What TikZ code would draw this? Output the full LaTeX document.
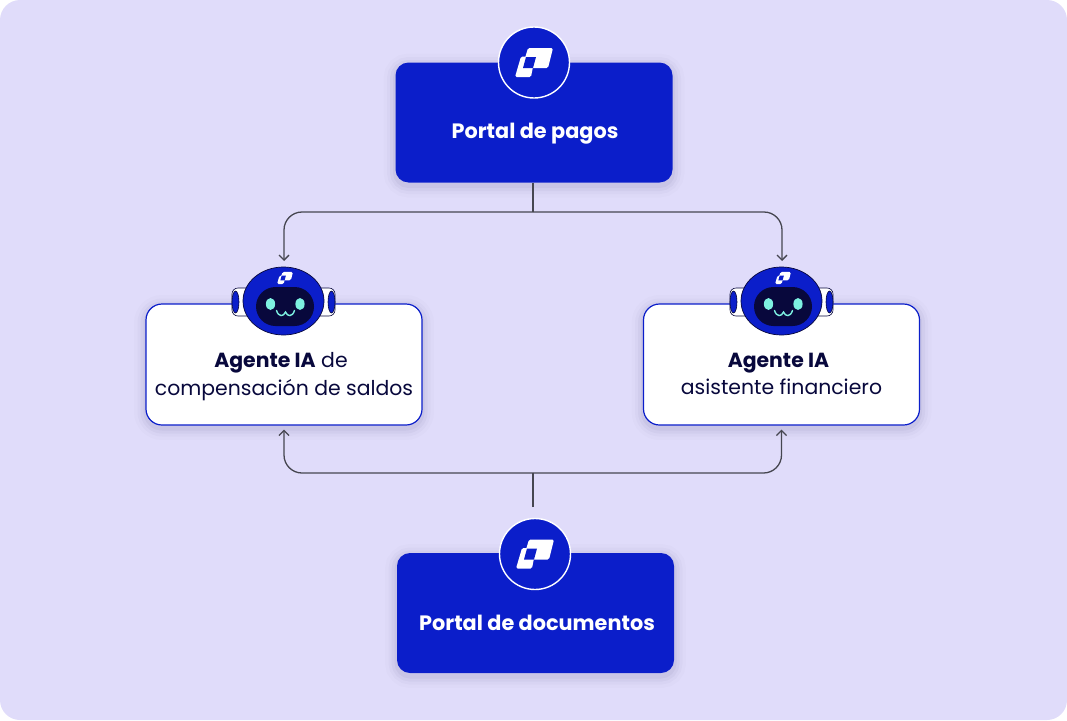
\documentclass[tikz,border=0pt]{standalone}
\usepackage{fontspec}
\setmainfont{Poppins}
\usetikzlibrary{arrows.meta,positioning}
\definecolor{lilac}{RGB}{224,220,250}
\definecolor{royal}{RGB}{11,30,202}
\definecolor{midnight}{RGB}{8,8,60}
\definecolor{wire}{RGB}{70,70,80}
\definecolor{eyecyan}{RGB}{125,240,225}
\tikzset{
  >={Straight Barb[length=5pt,width=10pt]},
  softshade/.style={
    preaction={draw=midnight,opacity=0.012,line width=24pt,transform canvas={yshift=-3pt}},
    preaction={draw=midnight,opacity=0.02,line width=17pt,transform canvas={yshift=-3pt}},
    preaction={draw=midnight,opacity=0.03,line width=11pt,transform canvas={yshift=-3pt}},
    preaction={draw=midnight,opacity=0.04,line width=5pt,transform canvas={yshift=-3pt}}},
  portal/.style={fill=royal,rounded corners=13pt,minimum width=277pt,minimum height=120pt,softshade},
  agente/.style={draw=royal,line width=1.2pt,fill=white,rounded corners=16pt,minimum width=276pt,minimum height=121pt,softshade},
  badge/.style={circle,fill=royal,draw=white,line width=1.4pt,minimum size=71pt,inner sep=0pt},
  portaltext/.style={text=white,font=\fontsize{20.8}{26}\selectfont\bfseries},
  agentetext/.style={text=midnight,align=center,font=\fontsize{20.4}{27.8}\selectfont},
  flow/.style={->,draw=wire,line width=1.3pt,rounded corners=18pt},
  trunk/.style={draw=wire,line width=1.3pt},
  % pictograms
  pics/logo/.style={code={
    \fill[white,rounded corners=1.5pt] (-6,-14.5) -- (19,-14.5) -- (14,5.5) -- (-12,5.5) -- cycle;
    \fill[white,rounded corners=1.5pt] (-13,-6) -- (1,-6) -- (-3,14.5) -- (-19,14.5) -- cycle;
    \fill[#1] (-8,-5.5) -- (2,-5.5) -- (-1,5.5) -- (-11,5.5) -- cycle;
  }},
  pics/logo/.default=royal,
  pics/robot/.style={code={
    \foreach \s in {-1,1} {
      \fill[white,draw=midnight,line width=0.6pt,rounded corners=6pt,xscale=\s] (24,-13) rectangle (51.5,15);
      \fill[royal,draw=midnight,line width=0.6pt,xscale=\s] (48,1) ellipse [x radius=3.5pt,y radius=11pt];
    }
    \fill[royal,draw=midnight,line width=0.7pt] (0,0) ellipse [x radius=40.5pt,y radius=34pt];
    \fill[midnight,rounded corners=19.5pt] (-27.5,-14) rectangle (30.5,25);
    \pic[scale=0.42] at (1.5,-23) {logo};
    \foreach \x in {-13,16.5}
      \fill[eyecyan] (\x,3) ellipse [x radius=4.6pt,y radius=6pt];
    \draw[eyecyan,line width=1.4pt,line cap=round] (-7,9.5) .. controls (-5,16) and (0,16) .. (2,11) .. controls (4,16) and (9,16) .. (11,9.5);
  }},
}
\begin{document}
\begin{tikzpicture}[x=1pt,y=-1pt]
    \useasboundingbox (0,0) rectangle (1067,720);
    \fill[lilac,rounded corners=20pt] (0,0) rectangle (1067,720);
    % boxes
    \node[portal] (pagos) at (534,122.5) {};
    \node[portal] (docs) at (535.5,613) {};
    \node[agente] (agenteL) at (284,364.5) {};
    \node[agente] (agenteR) at (781.5,364.5) {};
    % connectors
    \coordinate (busTop) at (533,212);
    \coordinate (busLow) at (533,473);
    \coordinate (stubLow) at (533,507);
    \coordinate (headL) at (284,261);
    \coordinate (headR) at (782,261);
    \draw[trunk] (pagos.south -| busTop) -- (busTop);
    \draw[flow] (busTop) -| (headL);
    \draw[flow] (busTop) -| (headR);
    \draw[trunk] (stubLow) -- (busLow);
    \draw[flow] (busLow) -| ([yshift=-4pt]agenteL.south);
    \draw[flow] (busLow) -| ([yshift=-4pt]agenteR.south);
    % badges and robots
    \node[badge] (badgeTop) at (534,62.5) {};
    \pic at (badgeTop) {logo};
    \node[badge] (badgeLow) at (535,554) {};
    \pic at (badgeLow) {logo};
    \pic at (283.5,301) {robot};
    \pic at (781.5,301) {robot};
    % texts
    \node[portaltext] (pagosText) at (535,134) {Portal de pagos};
    \node[portaltext] (docsText) at (537,622.5) {Portal de documentos};
    \node[agentetext] (agenteLText) at (284,376.5) {\textbf{Agente IA} de\hspace*{6pt}\\compensación de saldos};
    \node[agentetext] (agenteRText) at (781.5,374) {\textbf{Agente IA}\hspace*{6pt}\\asistente financiero};
\end{tikzpicture}
\end{document}
